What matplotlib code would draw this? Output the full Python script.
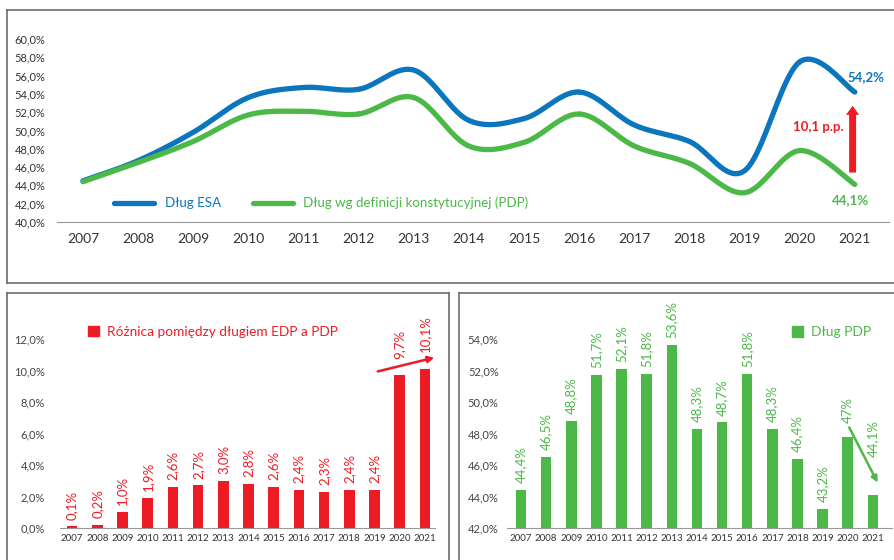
import numpy as np
import matplotlib
matplotlib.use("Agg")
import matplotlib.pyplot as plt
from matplotlib.lines import Line2D
from matplotlib.patches import Patch
from matplotlib.ticker import FuncFormatter

plt.rcParams['font.family'] = ['Lato', 'DejaVu Sans']

# Dane
years = list(range(2007, 2022))
pdp = [44.4, 46.5, 48.8, 51.7, 52.1, 51.8, 53.6, 48.3, 48.7, 51.8, 48.3, 46.4, 43.2, 47.8, 44.1]
pdp_labels = ["44,4%", "46,5%", "48,8%", "51,7%", "52,1%", "51,8%", "53,6%", "48,3%",
              "48,7%", "51,8%", "48,3%", "46,4%", "43,2%", "47%", "44,1%"]
diff = [0.1, 0.2, 1.0, 1.9, 2.6, 2.7, 3.0, 2.8, 2.6, 2.4, 2.3, 2.4, 2.4, 9.7, 10.1]
esa = [44.5, 46.7, 49.8, 53.6, 54.7, 54.5, 56.6, 51.1, 51.3, 54.2, 50.6, 48.8, 45.6, 57.5, 54.2]

BLUE = "#0b76bd"
GREEN = "#4cb848"
RED = "#ed1c24"
GRAY = "#6d6d6d"


def pl(v, nd=1):
    return f"{v:.{nd}f}".replace(".", ",") + "%"


def smooth(x, y, n=24):
    # wygładzona linia (Catmull-Rom), jak w Excelu
    x = np.asarray(x, float)
    y = np.asarray(y, float)
    px = np.concatenate([[x[0]], x, [x[-1]]])
    py = np.concatenate([[y[0]], y, [y[-1]]])
    xs, ys = [], []
    t = np.linspace(0, 1, n)
    for i in range(1, len(px) - 2):
        for p, out in ((px, xs), (py, ys)):
            p0, p1, p2, p3 = p[i - 1], p[i], p[i + 1], p[i + 2]
            out.extend(0.5 * ((2 * p1) + (-p0 + p2) * t + (2 * p0 - 5 * p1 + 4 * p2 - p3) * t ** 2
                              + (-p0 + 3 * p1 - 3 * p2 + p3) * t ** 3))
    return np.array(xs), np.array(ys)


fig = plt.figure(figsize=(8.94, 5.6), dpi=100)

# Ramki
fig.add_artist(Line2D([0.0078, 1.0], [0.982, 0.982], color=GRAY, lw=1.2))
fig.add_artist(Line2D([0.0078, 1.0], [0.4946, 0.4946], color=GRAY, lw=1.2))
fig.add_artist(Line2D([0.0078, 0.0078], [0.4946, 0.982], color=GRAY, lw=1.2))
fig.add_artist(Line2D([0.0078, 0.5022], [0.4768, 0.4768], color=GRAY, lw=1.2))
fig.add_artist(Line2D([0.0078, 0.0078], [0.0, 0.4768], color=GRAY, lw=1.2))
fig.add_artist(Line2D([0.5022, 0.5022], [0.0, 0.4768], color=GRAY, lw=1.2))
fig.add_artist(Line2D([0.5134, 1.0], [0.4768, 0.4768], color=GRAY, lw=1.2))
fig.add_artist(Line2D([0.5134, 0.5134], [0.0, 0.4768], color=GRAY, lw=1.2))

# Wykres górny
ax = fig.add_axes([0.0638, 0.6036, 0.9306, 0.3268])
xs, ys = smooth(years, esa)
ax.plot(xs, ys, color=BLUE, lw=3.8, solid_capstyle='round', label="Dług ESA")
xs, ys = smooth(years, pdp)
ax.plot(xs, ys, color=GREEN, lw=3.8, solid_capstyle='round',
        label="Dług wg definicji konstytucyjnej (PDP)")
ax.set_xlim(2006.53, 2021.62)
ax.set_ylim(40, 60)
ax.set_yticks(np.arange(40, 61, 2))
ax.yaxis.set_major_formatter(FuncFormatter(lambda v, p: pl(v)))
ax.set_xticks(years)
ax.tick_params(axis='y', length=0, pad=8.5, labelsize=8, labelcolor="#333333")
ax.tick_params(axis='x', length=0, pad=8, labelsize=10, labelcolor="#333333")
for s in ("top", "right", "left"):
    ax.spines[s].set_visible(False)
ax.spines["bottom"].set_color("#999999")
leg = ax.legend(ncol=2, frameon=False, loc="center left", bbox_to_anchor=(0.0685, 0.104),
                borderpad=0, borderaxespad=0, handlelength=3.0, handletextpad=0.8,
                columnspacing=2.4, fontsize=9.6, labelcolor="linecolor")
ax.text(2021.2, 55.85, pl(esa[-1]), color=BLUE, fontsize=9.5, fontweight="bold",
        ha="center", va="center")
ax.text(2020.93, 42.4, pl(pdp[-1]), color=GREEN, fontsize=9.5, fontweight="bold",
        ha="center", va="center")
ax.text(2020.34, 50.4, pl(diff[-1])[:-1] + " p.p.", color=RED, fontsize=9.5,
        fontweight="bold", ha="center", va="center")
ax.annotate("", xy=(2020.96, 53.0), xytext=(2020.96, 45.1),
            arrowprops=dict(arrowstyle="simple,head_width=9.5,head_length=6.5,tail_width=5",
                            mutation_scale=1, color=RED, lw=0))

# Wykres dolny lewy
ax2 = fig.add_axes([0.0671, 0.0571, 0.4195, 0.3938])
ax2.bar(years, diff, width=0.42, color=RED, label="Różnica pomiędzy długiem EDP a PDP")
ax2.set_xlim(2006.52, 2021.40)
ax2.set_ylim(0, 14)
ax2.set_yticks(np.arange(0, 13, 2))
ax2.yaxis.set_major_formatter(FuncFormatter(lambda v, p: pl(v)))
ax2.set_xticks(years)
ax2.tick_params(axis='y', length=0, pad=11, labelsize=8, labelcolor="#444444")
ax2.tick_params(axis='x', length=0, pad=4, labelsize=7, labelcolor="#333333")
for s in ("top", "right", "left"):
    ax2.spines[s].set_visible(False)
ax2.spines["bottom"].set_color("#999999")
for yr, v in zip(years, diff):
    off = 12 if v > 5 else 5
    ax2.annotate(pl(v), (yr, v), xytext=(0, off), textcoords="offset points",
                 rotation=90, ha="center", va="bottom", color=RED, fontsize=9.5)
ax2.legend(handles=[Patch(color=RED, label="Różnica pomiędzy długiem EDP a PDP")],
           frameon=False, loc="center left", bbox_to_anchor=(0.075, 0.889),
           borderpad=0, borderaxespad=0, handlelength=0.8, handleheight=0.8,
           handletextpad=0.6, fontsize=9.8, labelcolor=RED)
ax2.annotate("", xy=(2021.48, 10.86), xytext=(2019.02, 9.9), annotation_clip=False,
             arrowprops=dict(arrowstyle="-|>", color=RED, lw=1.8, mutation_scale=9))

# Wykres dolny prawy
ax3 = fig.add_axes([0.5671, 0.0571, 0.4306, 0.3938])
ax3.bar(years, pdp, width=0.42, color=GREEN, bottom=0)
ax3.set_xlim(2006.44, 2021.76)
ax3.set_ylim(42, 56)
ax3.set_yticks(np.arange(42, 55, 2))
ax3.yaxis.set_major_formatter(FuncFormatter(lambda v, p: pl(v)))
ax3.set_xticks(years)
ax3.tick_params(axis='y', length=0, pad=6, labelsize=8, labelcolor="#444444")
ax3.tick_params(axis='x', length=0, pad=4, labelsize=7, labelcolor="#333333")
for s in ("top", "right", "left"):
    ax3.spines[s].set_visible(False)
ax3.spines["bottom"].set_color("#999999")
for yr, v, lab in zip(years, pdp, pdp_labels):
    off = {2020: 10, 2021: 27}.get(yr, 5)
    ax3.annotate(lab, (yr, v), xytext=(0, off), textcoords="offset points",
                 rotation=90, ha="center", va="bottom", color=GREEN, fontsize=9.5)
ax3.legend(handles=[Patch(color=GREEN, label="Dług PDP")],
           frameon=False, loc="center left", bbox_to_anchor=(0.74, 0.889),
           borderpad=0, borderaxespad=0, handlelength=0.8, handleheight=0.8,
           handletextpad=0.6, fontsize=10, labelcolor=GREEN)
ax3.annotate("", xy=(2021.24, 44.73), xytext=(2020.01, 48.54),
             arrowprops=dict(arrowstyle="-|>", color=GREEN, lw=1.8, mutation_scale=9))

fig.savefig("out.png", dpi=100)
